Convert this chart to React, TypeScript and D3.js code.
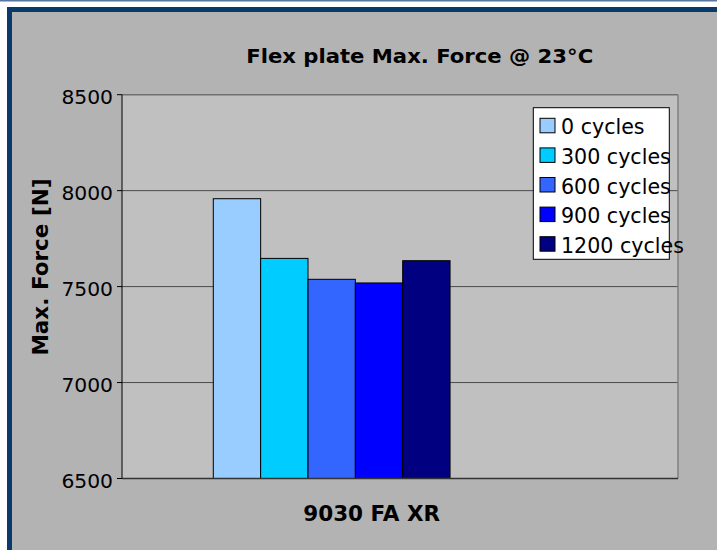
import React from "react";
import * as d3 from "d3";

const categories = ["9030 FA XR"];
const seriesNames = ["0 cycles", "300 cycles", "600 cycles", "900 cycles", "1200 cycles"];
const seriesValues = [7958, 7647, 7538, 7519, 7635];
const seriesColors = ["#99ccff", "#00ccff", "#3366ff", "#0000ff", "#000080"];
const yTicks = [6500, 7000, 7500, 8000, 8500];
const title = "Flex plate Max. Force @ 23°C";
const yLabel = "Max. Force [N]";

const W = 717;
const H = 550;
const plot = { left: 122, right: 678, top: 94.7, bottom: 478.5 };

export default function App() {
  const y = d3.scaleLinear().domain([6500, 8500]).range([plot.bottom, plot.top]);
  const x0 = d3.scaleBand<string>().domain(categories).range([plot.left, plot.right]);
  const bw = x0.bandwidth();
  const font = "'DejaVu Sans', Verdana, sans-serif";

  return (
    <svg width={W} height={H} style={{ position: "absolute", left: 0, top: 0, display: "block" }}>
      <rect x={0} y={0} width={W} height={H} fill="#ffffff" />
      <rect x={0} y={0} width={W} height={1.5} fill="#5676a0" />
      <rect x={7} y={7} width={W} height={H} fill="#0a3a6c" />
      <rect x={12} y={12} width={W} height={H} fill="#b3b3b3" />
      {/* plot area */}
      <rect x={plot.left} y={plot.top} width={plot.right - plot.left} height={plot.bottom - plot.top} fill="#c0c0c0" />
      {yTicks.slice(1, -1).map((t) => (
        <line key={t} x1={plot.left} x2={plot.right} y1={y(t)} y2={y(t)} stroke="#4a4a4a" strokeWidth={1} />
      ))}
      <line x1={plot.left} x2={plot.right} y1={plot.top} y2={plot.top} stroke="#707070" strokeWidth={1.5} />
      <line x1={plot.right} x2={plot.right} y1={plot.top} y2={plot.bottom} stroke="#808080" strokeWidth={1.5} />
      {/* bars */}
      {categories.map((c) => {
        const start = (x0(c) as number) + bw * 0.1642;
        const end = (x0(c) as number) + bw * 0.59;
        const x1 = d3.scaleBand<string>().domain(seriesNames).range([start, end]);
        return (
          <g key={c}>
            {seriesNames.map((s, i) => (
              <rect
                key={s}
                x={x1(s)}
                y={y(seriesValues[i])}
                width={x1.bandwidth()}
                height={y(6500) - y(seriesValues[i])}
                fill={seriesColors[i]}
                stroke="#000"
                strokeWidth={1}
              />
            ))}
            <text
              x={(x0(c) as number) + bw * 0.449}
              y={520.7}
              textAnchor="middle"
              fontFamily={font}
              fontWeight="bold"
              fontSize={21.5}
              fill="#000"
            >
              {c}
            </text>
          </g>
        );
      })}
      {/* axes */}
      <line x1={plot.left} x2={plot.left} y1={plot.top} y2={plot.bottom} stroke="#000" strokeWidth={1} />
      <line x1={plot.left} x2={plot.right} y1={plot.bottom} y2={plot.bottom} stroke="#333" strokeWidth={1.5} />
      {yTicks.map((t) => (
        <g key={t}>
          <line x1={plot.left - 5} x2={plot.left} y1={y(t)} y2={y(t)} stroke="#000" strokeWidth={1} />
          <text x={113} y={y(t) + 9.3} textAnchor="end" fontFamily={font} fontSize={20.3} fill="#000">
            {t}
          </text>
        </g>
      ))}
      {/* title */}
      <text x={419.7} y={62.7} textAnchor="middle" fontFamily={font} fontWeight="bold" fontSize={19.8} fill="#000" textLength={347} lengthAdjust="spacingAndGlyphs">
        {title}
      </text>
      {/* y label */}
      <text
        transform={`translate(47.5, 267) rotate(-90)`}
        textAnchor="middle"
        fontFamily={font}
        fontWeight="bold"
        fontSize={21.5}
        fill="#000"
      >
        {yLabel}
      </text>
      {/* legend */}
      <rect x={533.3} y={107.7} width={136} height={151.6} fill="#ffffff" stroke="#000" strokeWidth={1} />
      {seriesNames.map((s, i) => (
        <g key={s}>
          <rect x={540} y={118.3 + i * 29.6} width={15} height={14.5} fill={seriesColors[i]} stroke="#000" strokeWidth={1} />
          <text x={561} y={134.3 + i * 29.6} fontFamily={font} fontSize={20.6} fill="#000">
            {s}
          </text>
        </g>
      ))}
    </svg>
  );
}
